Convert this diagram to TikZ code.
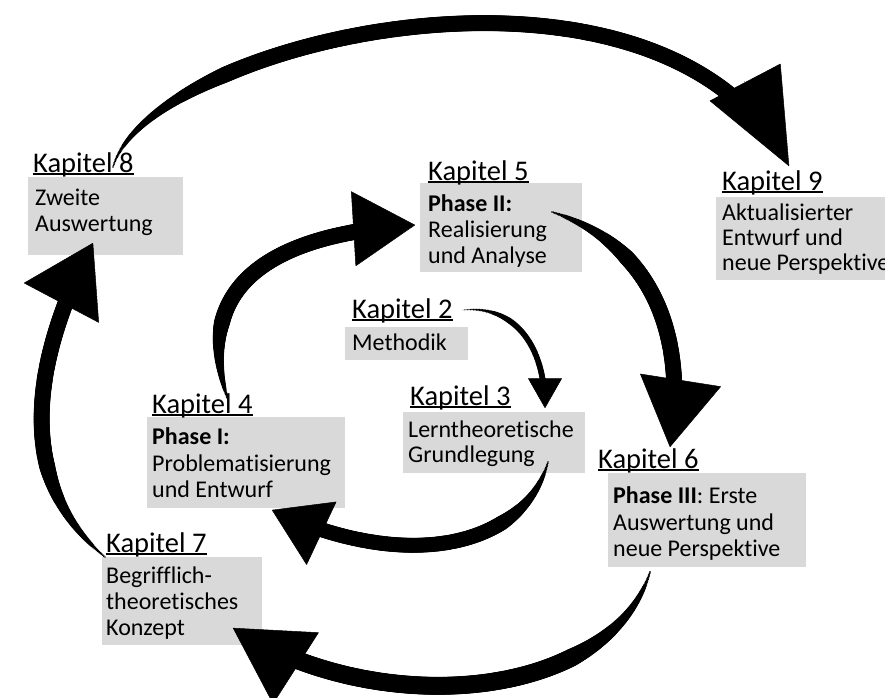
\documentclass[tikz,border=0pt]{standalone}
\usepackage{fontspec}
\setmainfont{Carlito}[Ligatures={NoCommon}]
\usetikzlibrary{arrows.meta,decorations.markings,calc}
\definecolor{boxgray}{RGB}{217,217,217}
\definecolor{ink}{RGB}{0,0,0}
\tikzset{
  boxbg/.style={fill=boxgray, draw=none, inner sep=0pt, outer sep=0pt, anchor=north west},
  chaptitle/.style={anchor=base west, inner sep=0pt, text=ink, font=\fontsize{28.5}{30}\selectfont},
  bodyline/.style={anchor=base west, inner sep=0pt, text=ink, font=\fontsize{24}{26}\selectfont},
}
\newcommand\chapul[1]{\setbox0\hbox{#1}\rlap{\rule[-3pt]{\wd0}{1.6pt}}\box0}
% #1 width, #2 taper length, #3 end cut, #4 tip length, #5 tip width,
% #6 start, #7 control 1, #8 control 2, #9 end
\newcommand\brusharrow[9]{%
  \path[decorate, decoration={markings,
     mark=between positions 0 and -#3 step 1.5pt with {%
       \pgfmathsetmacro\brr{#1/2*min(1,0.1+0.9*\pgfkeysvalueof{/pgf/decoration/mark info/sequence number}*1.5/#2)}%
       \fill[ink] (0,0) circle[radius=\brr pt];}}]
     (#6) .. controls (#7) and (#8) .. (#9);
  \draw[ink, line width=0.5pt, -{Triangle[length=#4, width=#5, round]}]
     ($(#9)!1.005*#4!(#8)$) -- (#9);
}
\begin{document}
\begin{tikzpicture}[x=1pt,y=-1pt]
\useasboundingbox (0,0) rectangle (885,697);
% grey boxes
\node[boxbg, minimum width=155pt, minimum height=78pt] (b8) at (28,177) {};
\node[boxbg, minimum width=162pt, minimum height=89pt] (b5) at (420,183) {};
\node[boxbg, minimum width=174pt, minimum height=83pt] (b9) at (716,197) {};
\node[boxbg, minimum width=123pt, minimum height=33pt] (b2) at (345,327) {};
\node[boxbg, minimum width=182pt, minimum height=61pt] (b3) at (403,412) {};
\node[boxbg, minimum width=198pt, minimum height=91pt] (b4) at (147,417) {};
\node[boxbg, minimum width=198pt, minimum height=94pt] (b6) at (608,473) {};
\node[boxbg, minimum width=160pt, minimum height=88pt] (b7) at (102,557) {};
% titles
\node[chaptitle] (t8) at (33,172) {\chapul{Kapitel 8}};
\node[chaptitle] (t5) at (428,180) {\chapul{Kapitel 5}};
\node[chaptitle] (t9) at (722,190) {\chapul{Kapitel 9}};
\node[chaptitle] (t2) at (352,318) {\chapul{Kapitel 2}};
\node[chaptitle] (t3) at (410,405) {\chapul{Kapitel 3}};
\node[chaptitle] (t4) at (152,413) {\chapul{Kapitel 4}};
\node[chaptitle] (t6) at (598,468) {\chapul{Kapitel 6}};
\node[chaptitle] (t7) at (106,552) {\chapul{Kapitel 7}};
% body lines
\node[bodyline] (l8a) at (35,205) {Zweite};
\node[bodyline] (l8b) at (35,231) {Auswertung};
\node[bodyline] (l5a) at (428,211) {\bfseries Phase II:};
\node[bodyline] (l5b) at (428,237) {Realisierung};
\node[bodyline] (l5c) at (428,263) {und Analyse};
\node[bodyline] (l9a) at (722,220) {Aktualisierter};
\node[bodyline] (l9b) at (722,245) {Entwurf und};
\node[bodyline] (l9c) at (722,270) {neue Perspektive};
\node[bodyline] (l2a) at (352,350) {Methodik};
\node[bodyline] (l3a) at (408,437) {Lerntheoretische};
\node[bodyline] (l3b) at (408,462) {Grundlegung};
\node[bodyline] (l4a) at (152,444) {\bfseries Phase I:};
\node[bodyline] (l4b) at (152,471) {Problematisierung};
\node[bodyline] (l4c) at (152,497) {und Entwurf};
\node[bodyline] (l6a) at (613,503) {\textbf{Phase III}: Erste};
\node[bodyline] (l6b) at (613,530) {Auswertung und};
\node[bodyline] (l6c) at (613,556) {neue Perspektive};
\node[bodyline] (l7a) at (106,583) {Begrifflich-};
\node[bodyline] (l7b) at (106,609) {theoretisches};
\node[bodyline] (l7c) at (106,635) {Konzept};
% arrow end points
\coordinate (a1s) at (113,167); \coordinate (a1e) at (789,166);
\coordinate (a2s) at (105,557); \coordinate (a2e) at (93,243);
\coordinate (a3s) at (650,572); \coordinate (a3e) at (233,628);
\coordinate (a4s) at (552,212); \coordinate (a4e) at (670,447);
\coordinate (a5s) at (228,400); \coordinate (a5e) at (415,225);
\coordinate (a6s) at (548,462); \coordinate (a6e) at (272,510);
\coordinate (a7s) at (463,310); \coordinate (a7e) at (545,408);
% brush arrows
\brusharrow{16}{150}{45pt}{95pt}{80pt}{a1s}{150,40}{660,-80}{a1e}
\brusharrow{16}{110}{34pt}{68pt}{85pt}{a2s}{0,470}{47,330}{a2e}
\brusharrow{18}{120}{37pt}{75pt}{85pt}{a3s}{610,700}{380,722}{a3e}
\brusharrow{16}{90}{34pt}{68pt}{82pt}{a4s}{640,240}{690,320}{a4e}
\brusharrow{16}{80}{31pt}{62pt}{75pt}{a5s}{195,300}{250,235}{a5e}
\brusharrow{15}{80}{28pt}{55pt}{70pt}{a6s}{525,545}{410,575}{a6e}
\brusharrow{6}{50}{15pt}{30pt}{34pt}{a7s}{510,305}{545,340}{a7e}
\end{tikzpicture}
\end{document}
